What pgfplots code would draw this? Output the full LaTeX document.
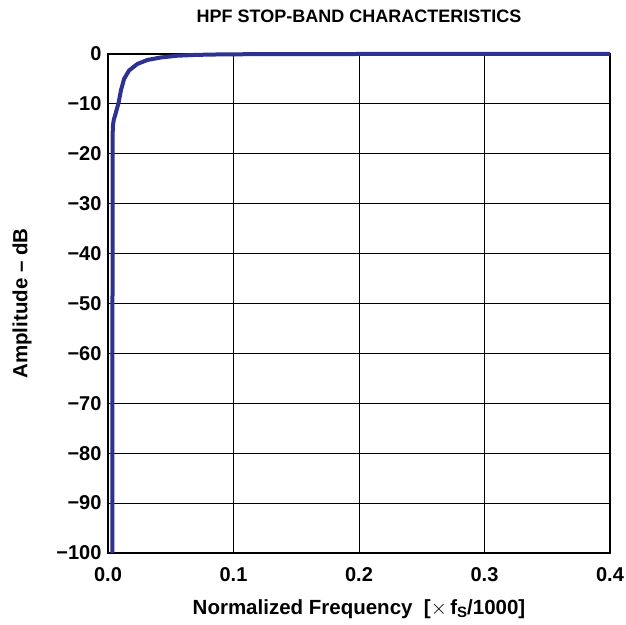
\documentclass[border=0pt]{standalone}
\usepackage{fontspec}
\setmainfont{Liberation Sans}
\usepackage{pgfplots}
\pgfplotsset{compat=1.18}
\definecolor{tiblue}{RGB}{46,49,146}
\newcommand{\tickfont}{\fontsize{20}{20}\selectfont\bfseries}
\newcommand{\lblfont}{\fontsize{20.5}{20.5}\selectfont\bfseries}

\begin{document}
\begin{tikzpicture}[x=1pt,y=1pt]
\useasboundingbox (0,0) rectangle (626,624);
\begin{axis}[
  at={(108pt,71pt)}, anchor=south west,
  scale only axis, width=502pt, height=499pt,
  xmin=0, xmax=0.4, ymin=-100, ymax=0,
  xtick={0,0.1,0.2,0.3,0.4},
  xticklabels={0.0,0.1,0.2,0.3,0.4},
  ytick={-100,-90,-80,-70,-60,-50,-40,-30,-20,-10,0},
  yticklabels={−100,−90,−80,−70,−60,−50,−40,−30,−20,−10,0},
  major tick length=0pt,
  grid=major,
  grid style={black, line width=0.9pt},
  axis line style={black, line width=2pt},
  ticklabel style={font=\tickfont},
  xticklabel style={yshift=-11pt},
  yticklabel style={xshift=-3pt},
  title={HPF STOP-BAND CHARACTERISTICS},
  title style={font=\fontsize{18}{18}\selectfont\bfseries, at={(axis description cs:0.5,1.0521)}, anchor=base},
  xlabel={Normalized Frequency\ \ [$\times$\,f\raisebox{-3pt}{\fontsize{15}{15}\selectfont S}/1000]},
  xlabel style={font=\lblfont, at={(axis description cs:0.5,-0.1242)}, anchor=base},
  ylabel={Amplitude -- dB},
  ylabel style={font=\lblfont, at={(axis description cs:-0.171,0.5)}, anchor=center},
  clip=false,
]
% stop-band response
\addplot[tiblue, line width=4pt, line join=round] coordinates {
  (0.0035,-100) (0.0036,-40) (0.0037,-16) (0.0040,-14.2) (0.0046,-13.2)
  (0.0060,-12.0) (0.0084,-9.8) (0.0104,-7.2) (0.0128,-5.0)
  (0.0168,-3.3) (0.0234,-2.0) (0.0314,-1.2) (0.042,-0.7)
  (0.055,-0.35) (0.07,-0.18) (0.09,-0.08) (0.12,-0.03)
  (0.2,0) (0.4,0)
};
\end{axis}
\end{tikzpicture}
\end{document}
